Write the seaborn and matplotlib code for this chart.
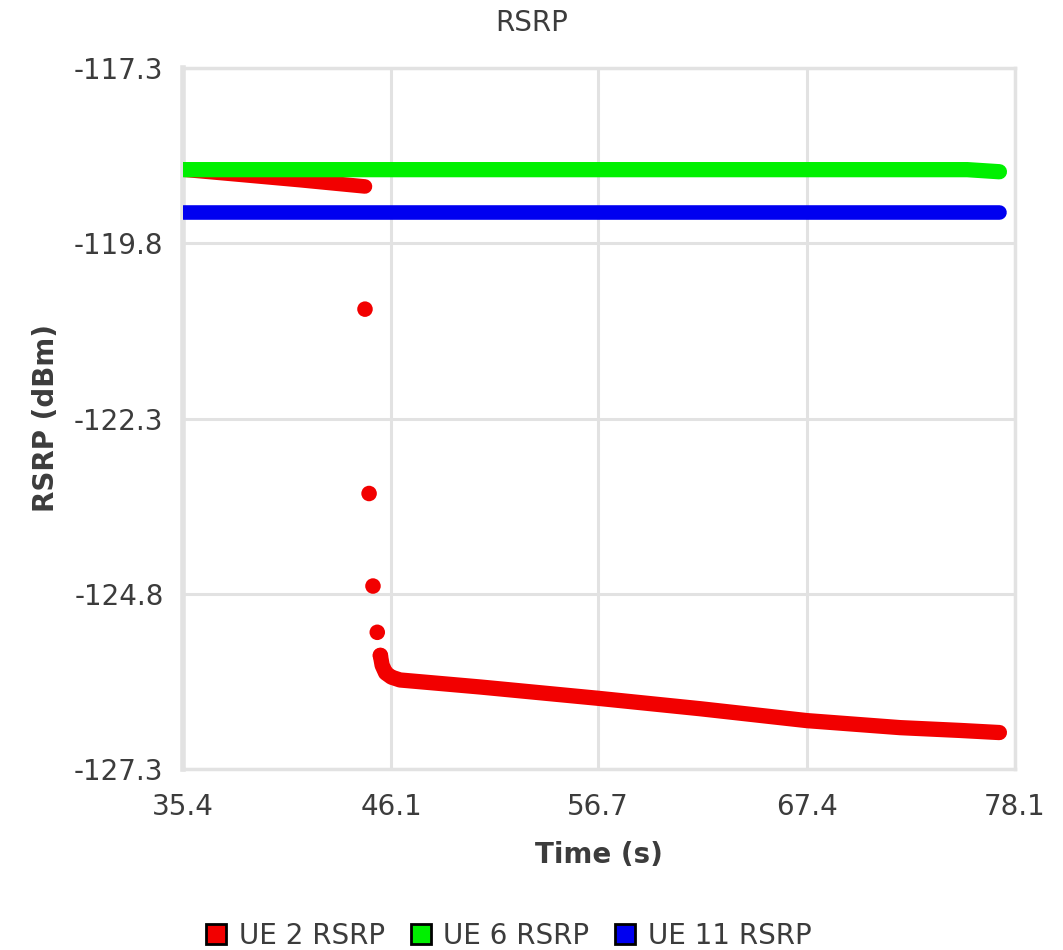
import matplotlib
matplotlib.use("Agg")
import matplotlib.pyplot as plt
import seaborn as sns
import pandas as pd
from matplotlib.lines import Line2D

# ---- data ----
time_ue2_pre = [35.4, 41.4, 44.74]
rsrp_ue2_pre = [-118.75, -118.90, -118.99]
time_ue2_drop = [44.74, 44.95, 45.15, 45.37, 45.53]
rsrp_ue2_drop = [-120.74, -123.37, -124.69, -125.35, -125.68]
time_ue2_post = [45.53, 45.62, 45.8, 46.1, 46.54, 50.65, 56.65, 61.94, 67.43, 72.21, 75.29, 77.3]
rsrp_ue2_post = [-125.68, -125.82, -125.93, -125.99, -126.03, -126.13, -126.29, -126.44, -126.61, -126.71, -126.75, -126.78]
time_ue6 = [35.4, 75.65, 77.3]
rsrp_ue6 = [-118.75, -118.75, -118.78]
time_ue11 = [35.4, 77.3]
rsrp_ue11 = [-119.35, -119.35]

x_ticks = [35.4, 46.1, 56.7, 67.4, 78.1]
y_ticks = [-117.3, -119.8, -122.3, -124.8, -127.3]
series_labels = ["UE 2 RSRP", "UE 6 RSRP", "UE 11 RSRP"]
series_colors = ["#f20000", "#00f000", "#0000f0"]

sns.set_style("white")
plt.rcParams["font.family"] = ["DejaVu Sans"]

fig = plt.figure(figsize=(10.63, 9.5), dpi=100)
ax = fig.add_axes([183 / 1063, 1 - 769 / 950, (1015 - 183) / 1063, (769 - 68) / 950])

lw = 11
red, green, blue = series_colors
sns.lineplot(x=time_ue2_pre, y=rsrp_ue2_pre, color=red, lw=lw - 0.5, ax=ax,
             estimator=None, sort=False, solid_capstyle="round", zorder=3)
sns.lineplot(x=time_ue2_post, y=rsrp_ue2_post, color=red, lw=lw, ax=ax,
             estimator=None, sort=False, solid_capstyle="round",
             solid_joinstyle="round", zorder=3)
sns.scatterplot(x=time_ue2_drop, y=rsrp_ue2_drop, color=red, s=125, ax=ax,
                edgecolor="none", zorder=3)
sns.lineplot(x=time_ue6, y=rsrp_ue6, color=green, lw=lw, ax=ax,
             estimator=None, sort=False, solid_capstyle="round", zorder=4)
sns.lineplot(x=time_ue11, y=rsrp_ue11, color=blue, lw=lw - 0.5, ax=ax,
             estimator=None, sort=False, solid_capstyle="round", zorder=4)

ax.set_xlim(x_ticks[0], x_ticks[-1])
ax.set_ylim(y_ticks[-1], y_ticks[0])
ax.set_xticks(x_ticks)
ax.set_xticklabels([f"{v:.1f}" for v in x_ticks])
ax.set_yticks(y_ticks)
ax.set_yticklabels([f"{v:.1f}" for v in y_ticks])

grid_c = "#e2e2e2"
ax.grid(True, color=grid_c, lw=2.2, zorder=0)
ax.set_axisbelow(True)
for side in ["left", "right", "top", "bottom"]:
    ax.spines[side].set_visible(True)
    ax.spines[side].set_color(grid_c)
    ax.spines[side].set_linewidth(2.5)
ax.spines["left"].set_linewidth(4)

ax.tick_params(axis="both", direction="out", length=11, width=2.2, color=grid_c,
               labelsize=20, labelcolor="#3c3c3c")
ax.tick_params(axis="x", pad=6)
ax.tick_params(axis="y", pad=3)

ax.set_xlabel("Time (s)", fontsize=20, fontweight="bold", color="#3c3c3c", labelpad=15)
ax.set_ylabel("RSRP (dBm)", fontsize=20, fontweight="bold", color="#3c3c3c", labelpad=10)

fig.text(0.5, 1 - 23 / 950, "RSRP", ha="center", va="center", fontsize=20, color="#3c3c3c")

handles = [Line2D([0], [0], marker="s", linestyle="none", markersize=14,
                  markerfacecolor=c, markeredgecolor="black", markeredgewidth=2.0)
           for c in series_colors]
fig.legend(handles, series_labels, loc="center", bbox_to_anchor=(509 / 1063, 1 - 936 / 950),
           ncol=3, frameon=False, fontsize=20, handlelength=0.7, handletextpad=0.45,
           columnspacing=0.95, labelcolor="#3c3c3c")

fig.savefig("out.png", dpi=100)
